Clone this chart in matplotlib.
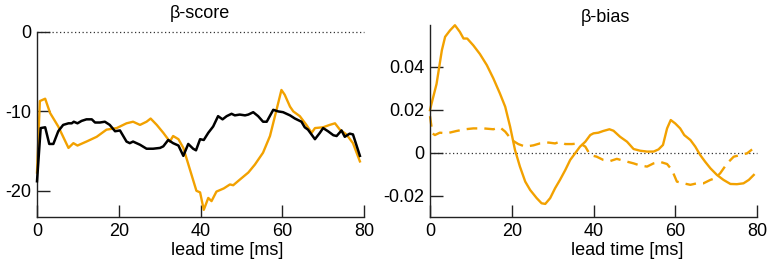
import matplotlib
matplotlib.use("Agg")
import matplotlib.pyplot as plt
from matplotlib.ticker import FixedLocator, FixedFormatter

plt.rcParams['font.family'] = ['Liberation Sans', 'DejaVu Sans']

ORANGE = '#F2A100'

# ---- beta-score panel ----
score_orange_t = [0, 0.7, 2, 3.2, 5.2, 7.7, 8.9, 9.9, 12.1, 14.6, 17, 19.5, 21.9, 23.5,
                  25.2, 26.8, 27.8, 29.3, 30.9, 32.5, 33.3, 34.6, 35.8, 37.4, 39, 39.9,
                  40.8, 41.9, 42.7, 43.9, 45.7, 47.2, 48, 49.6, 51.7, 53.3, 55.3, 57,
                  58.6, 59.8, 60.6, 61.9, 62.7, 64.3, 65.9, 67.2, 68, 70, 71.6, 72.9,
                  74.1, 75.7, 77.3, 79]
score_orange = [-17.7, -8.7, -8.4, -10.2, -11.9, -14.6, -14.0, -14.3, -13.8, -13.2, -12.3,
                -12.1, -11.5, -11.3, -11.7, -11.3, -10.9, -11.7, -12.7, -13.8, -13.1, -13.5,
                -14.6, -17.3, -20.0, -20.2, -22.4, -20.9, -21.3, -20.1, -19.7, -19.2, -19.3,
                -18.6, -17.7, -16.7, -15.2, -13.1, -9.8, -7.3, -7.9, -9.4, -10.0, -10.6,
                -11.7, -12.7, -12.1, -12.0, -11.7, -11.5, -12.3, -12.9, -14.0, -16.3]

score_black_t = [0, 0.9, 2, 3, 4, 5.2, 6.4, 7.7, 8.5, 9, 9.9, 10.9, 12.1, 13.4, 14.2, 15.4,
                 16.6, 17.8, 19.1, 20.3, 21.9, 22.7, 23.5, 25.2, 26.8, 28.4, 30.1, 30.9,
                 32.1, 33.3, 34.6, 35.8, 37, 38.2, 38.9, 39.9, 40.8, 41.9, 43.1, 44.3,
                 45.4, 46.4, 47.6, 48.4, 49.6, 50.9, 51.7, 52.9, 54.1, 55.3, 56.2, 57.8,
                 59, 60.2, 61.9, 63.1, 64.7, 65.5, 66.3, 68, 69.2, 70, 71.2, 72.5, 73.3,
                 74.5, 75.3, 76.5, 77.3, 79]
score_black = [-18.8, -12.1, -12.0, -14.1, -14.1, -12.5, -11.7, -11.5, -11.5, -11.3, -11.5,
               -11.2, -11.0, -11.0, -11.4, -11.4, -11.3, -11.7, -12.5, -12.4, -13.8, -14.0,
               -13.8, -14.2, -14.7, -14.7, -14.6, -14.4, -13.6, -14.0, -14.3, -15.6, -14.1,
               -14.7, -14.9, -13.5, -13.6, -12.7, -11.9, -10.6, -11.0, -10.6, -10.3, -10.5,
               -10.4, -10.5, -10.4, -10.1, -10.6, -11.3, -11.3, -9.8, -10.0, -10.1, -10.5,
               -10.9, -11.3, -12.0, -12.3, -13.5, -12.7, -12.1, -12.5, -13.0, -13.1, -12.4,
               -13.2, -12.8, -12.9, -15.6]

# ---- beta-bias panel ----
bias_solid_t = [0, 0.4, 1.6, 2.9, 3.7, 4.9, 6.1, 7.3, 8.2, 9.1, 10.6, 12.2, 13.9, 15.5, 17.1,
                18.4, 19.6, 20.8, 22, 23.3, 24.5, 26.1, 27.3, 28.2, 29.4, 30.6, 31.8, 33.1,
                34.3, 35.5, 36.7, 38, 39.2, 40, 41.2, 42.4, 43.9, 44.9, 46.5, 48.2, 49.8,
                51.4, 53.1, 54.7, 55.9, 57, 58, 58.9, 60, 61.2, 62.2, 63.7, 64.9, 66.1,
                67.3, 68.6, 70.2, 71.8, 73.5, 75.1, 76.7, 78, 79.2]
bias_solid = [0.0198, 0.023, 0.032, 0.0477, 0.054, 0.057, 0.0594, 0.0563, 0.0532, 0.0532,
              0.050, 0.046, 0.0408, 0.0346, 0.0276, 0.0214, 0.0121, 0.0012, -0.0065, -0.0135,
              -0.0174, -0.0212, -0.0236, -0.0239, -0.0212, -0.0166, -0.0127, -0.0081, -0.0034,
              -0.0003, 0.0028, 0.0051, 0.0082, 0.009, 0.0093, 0.0101, 0.0109, 0.0102, 0.0074,
              0.0051, 0.0017, 0.0009, 0.0005, 0.0005, 0.0015, 0.0036, 0.0113, 0.0152, 0.0136,
              0.0113, 0.0082, 0.0059, 0.0028, -0.0011, -0.0042, -0.0073, -0.0104, -0.0127,
              -0.0146, -0.0147, -0.0143, -0.0127, -0.0104]

bias_dashed_t = [0, 0.6, 1.2, 2.4, 4.1, 6.5, 8.6, 10.6, 13.1, 15.5, 17.1, 18.4, 20, 21.6,
                 23.3, 25.3, 26.9, 29, 30.6, 31.8, 33.1, 34.7, 36.7, 38, 39.2, 40.8, 42.4,
                 44.1, 45.7, 48.2, 49.8, 51.4, 53.1, 54.7, 56.3, 58, 59.2, 60.4, 62, 63.7,
                 65.3, 66.9, 68.6, 69.8, 71, 72.7, 74.3, 75.9, 77.6, 78.8]
bias_dashed = [0.017, 0.009, 0.0082, 0.0093, 0.009, 0.0101, 0.0109, 0.0113, 0.0113, 0.0109,
               0.0118, 0.0098, 0.0059, 0.004, 0.0028, 0.0034, 0.0043, 0.0047, 0.0043, 0.0051,
               0.004, 0.004, 0.0043, 0.0028, -0.0011, -0.0019, -0.0034, -0.0039, -0.0029,
               -0.0042, -0.005, -0.006, -0.0065, -0.005, -0.0043, -0.0053, -0.0081, -0.0135,
               -0.0143, -0.015, -0.0143, -0.0143, -0.0127, -0.0119, -0.0096, -0.005, -0.0019,
               -0.0011, -0.0003, 0.0015]

x_ticks = [0, 20, 40, 60, 80]
score_yticks = [-20, -10, 0]
score_ylabels = ['-20', '-10', '0']
bias_yticks = [-0.02, 0, 0.02, 0.04]
bias_ylabels = ['-0.02', '0', '0.02', '0.04']

W, H = 772, 265
fig = plt.figure(figsize=(W / 100, H / 100), dpi=100)


def px_axes(x0, x1, ytop, ybot):
    return fig.add_axes([x0 / W, 1 - ybot / H, (x1 - x0) / W, (ybot - ytop) / H])


ax1 = px_axes(37, 364, 32, 217)
ax2 = px_axes(430, 757, 25, 217)

FS = 13
SPINE = '#222222'
for ax in (ax1, ax2):
    for s in ('top', 'right'):
        ax.spines[s].set_visible(False)
    for s in ('left', 'bottom'):
        ax.spines[s].set_color(SPINE)
        ax.spines[s].set_linewidth(1.0)
    ax.tick_params(direction='in', length=9, width=1.0, color=SPINE,
                   labelsize=FS, pad=4)
    ax.set_xlim(0, 80)
    ax.xaxis.set_major_locator(FixedLocator(x_ticks))
    ax.xaxis.set_major_formatter(FixedFormatter([str(v) for v in x_ticks]))
    ax.axhline(0, color='#333333', lw=0.9, ls=(0, (1, 2)), zorder=1, clip_on=False)

ax1.plot(score_orange_t, score_orange, color=ORANGE, lw=1.7, zorder=2, clip_on=False)
ax1.plot(score_black_t, score_black, color='black', lw=1.8, zorder=3, clip_on=False)
ax1.set_ylim(-23.3, 0)
ax1.yaxis.set_major_locator(FixedLocator(score_yticks))
ax1.yaxis.set_major_formatter(FixedFormatter(score_ylabels))

ax2.plot(bias_solid_t, bias_solid, color=ORANGE, lw=1.7, zorder=2, clip_on=False)
ax2.plot(bias_dashed_t, bias_dashed, color=ORANGE, lw=1.7, zorder=2,
         dashes=(4.5, 3), clip_on=False)
ax2.set_ylim(-0.03, 0.0595)
ax2.yaxis.set_major_locator(FixedLocator(bias_yticks))
ax2.yaxis.set_major_formatter(FixedFormatter(bias_ylabels))

fig.text(200 / W, 1 - 18 / H, 'β-score', ha='center', va='baseline', fontsize=FS)
fig.text(605 / W, 1 - 21.5 / H, 'β-bias', ha='center', va='baseline', fontsize=FS)
fig.text(227.5 / W, 1 - 255 / H, 'lead time [ms]', ha='center', va='baseline', fontsize=FS)
fig.text(627.5 / W, 1 - 255 / H, 'lead time [ms]', ha='center', va='baseline', fontsize=FS)

fig.savefig('out.png', dpi=100)
